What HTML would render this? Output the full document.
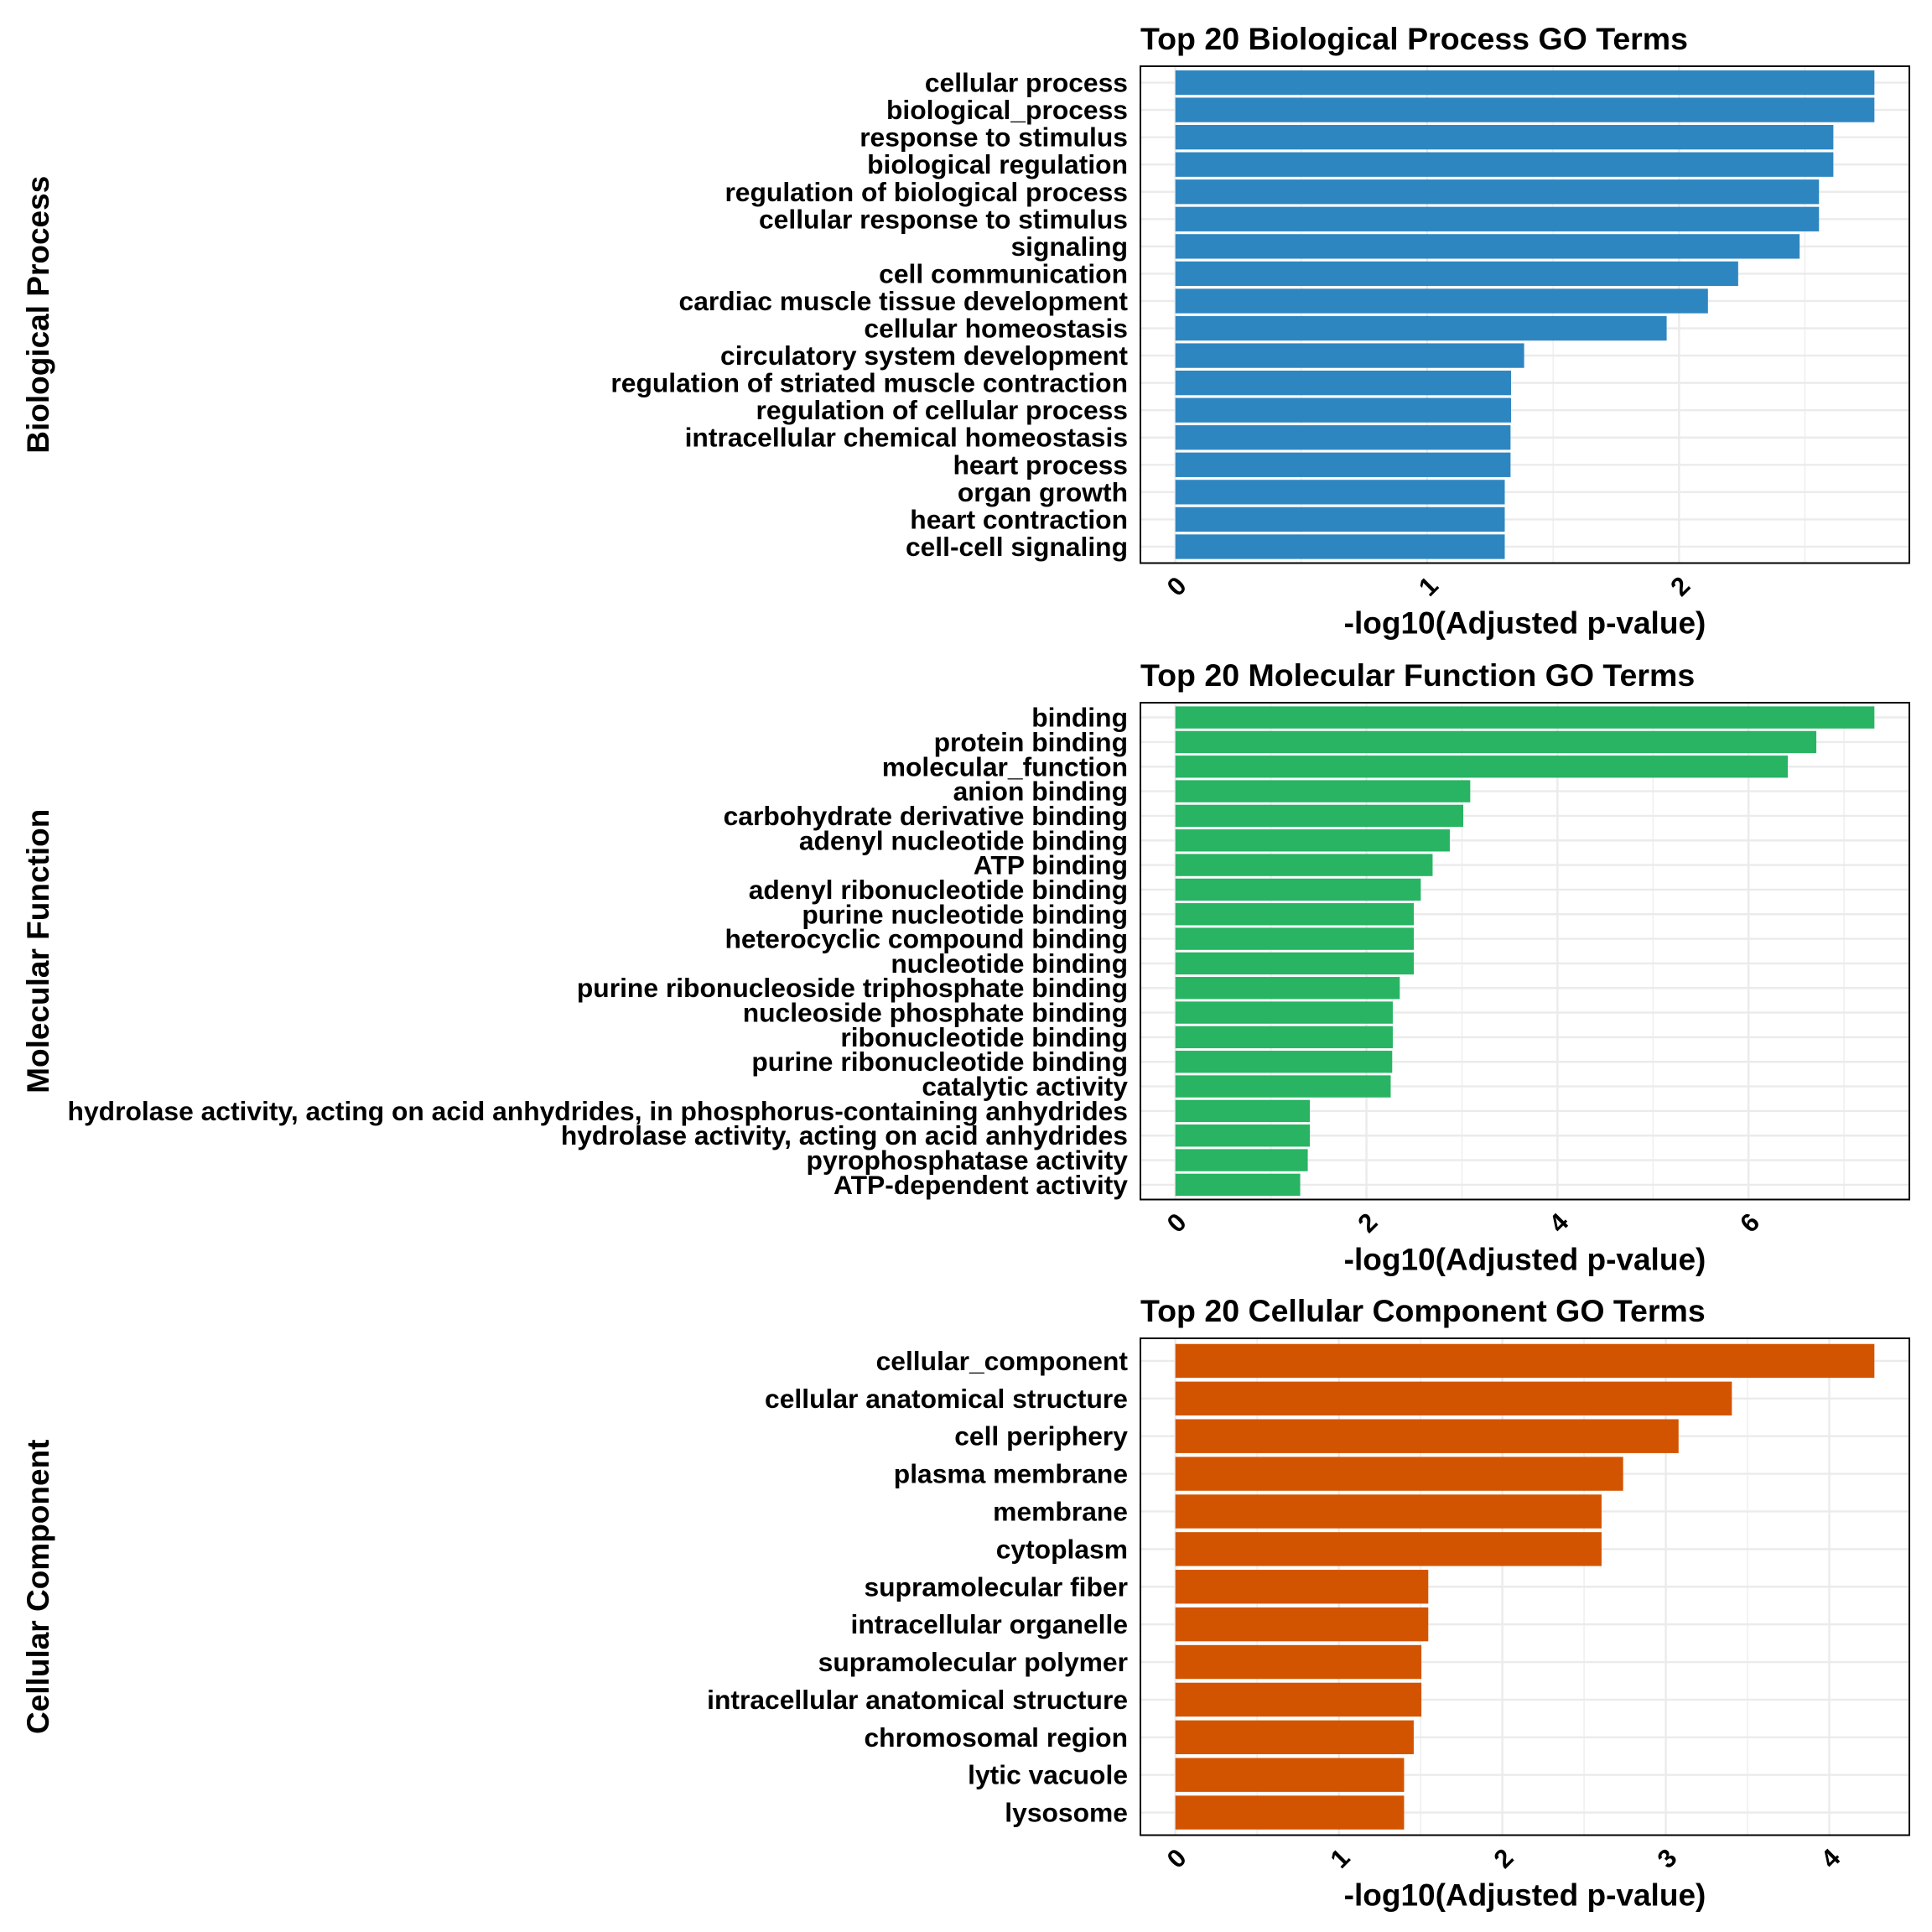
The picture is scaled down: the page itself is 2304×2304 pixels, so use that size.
<!DOCTYPE html>
<html><head><meta charset="utf-8"><style>
html,body{margin:0;padding:0;background:#fff;}
svg{display:block;}
text{font-family:"Liberation Sans",Arial,sans-serif;font-weight:bold;fill:#000;}
</style></head><body>
<svg id="chart" width="2304" height="2304" viewBox="0 0 2304 2304" xmlns="http://www.w3.org/2000/svg"></svg>
<script>
const bpTerms = ["cellular process","biological_process","response to stimulus","biological regulation","regulation of biological process","cellular response to stimulus","signaling","cell communication","cardiac muscle tissue development","cellular homeostasis","circulatory system development","regulation of striated muscle contraction","regulation of cellular process","intracellular chemical homeostasis","heart process","organ growth","heart contraction","cell-cell signaling"];
const bpValues = [2.776,2.776,2.613,2.613,2.556,2.556,2.479,2.235,2.115,1.951,1.385,1.333,1.333,1.331,1.331,1.308,1.308,1.308];
const bpTicks = [0,1,2];
const mfTerms = ["binding","protein binding","molecular_function","anion binding","carbohydrate derivative binding","adenyl nucleotide binding","ATP binding","adenyl ribonucleotide binding","purine nucleotide binding","heterocyclic compound binding","nucleotide binding","purine ribonucleoside triphosphate binding","nucleoside phosphate binding","ribonucleotide binding","purine ribonucleotide binding","catalytic activity","hydrolase activity, acting on acid anhydrides, in phosphorus-containing anhydrides","hydrolase activity, acting on acid anhydrides","pyrophosphatase activity","ATP-dependent activity"];
const mfValues = [7.318,6.71,6.411,3.087,3.014,2.873,2.693,2.569,2.496,2.496,2.496,2.349,2.276,2.276,2.270,2.254,1.408,1.408,1.386,1.307];
const mfTicks = [0,2,4,6];
const ccTerms = ["cellular_component","cellular anatomical structure","cell periphery","plasma membrane","membrane","cytoplasm","supramolecular fiber","intracellular organelle","supramolecular polymer","intracellular anatomical structure","chromosomal region","lytic vacuole","lysosome"];
const ccValues = [4.276,3.404,3.078,2.739,2.607,2.607,1.547,1.547,1.505,1.505,1.458,1.399,1.399];
const ccTicks = [0,1,2,3,4];

const NS="http://www.w3.org/2000/svg";
const svg=document.getElementById('chart');
function mk(tag,attrs,parent){const e=document.createElementNS(NS,tag);for(const k in attrs)e.setAttribute(k,attrs[k]);(parent||svg).appendChild(e);return e;}

function panel(key,title,ytitle,terms,values,ticks,color,top){
  const L=1360,R=2277,T=top,B=top+592.5;
  const g=mk('g',{});
  
  
  const vmax=Math.max(...values);
  const xmin=-0.05*vmax,xmax=vmax*1.05;
  const xs=v=>L+(v-xmin)/(xmax-xmin)*(R-L);
  const n=terms.length;
  const unit=(B-T)/(n-1+1.2);
  const ys=i=>T+unit*(0.6+i);
  const step=ticks[1]-ticks[0];
  for(let m=ticks[0]-step/2;m<=xmax;m+=step){ if(m<xmin)continue;
    const l=mk('line',{x1:xs(m),x2:xs(m),y1:T,y2:B,stroke:'#ebebeb','stroke-width':1.2},g);
    
    
  }
  ticks.forEach(t=>{const l=mk('line',{x1:xs(t),x2:xs(t),y1:T,y2:B,stroke:'#ebebeb','stroke-width':2.4},g);
    
    });
  for(let i=0;i<n;i++){const l=mk('line',{x1:L,x2:R,y1:ys(i),y2:ys(i),stroke:'#ebebeb','stroke-width':2.4},g);
    
    }
  for(let i=0;i<n;i++){
    const r=mk('rect',{x:xs(0),y:ys(i)-unit*0.45,width:xs(values[i])-xs(0),height:unit*0.9,fill:color},g);
    
    
    const t=mk('text',{x:1345,y:ys(i)+11,'text-anchor':'end','font-size':31.8},g);
    t.textContent=terms[i];
    
    
  }
  const border=mk('rect',{x:L,y:T,width:R-L,height:B-T,fill:'none',stroke:'#000','stroke-width':2},g);
  
  
  ticks.forEach(tv=>{
    const px=xs(tv)+15,py=B+29;
    const t=mk('text',{x:px,y:py,'text-anchor':'end','font-size':31,transform:`rotate(-45 ${px} ${py})`},g);
    t.textContent=tv;
    
    
  });
  const tt=mk('text',{x:L,y:T-20,'font-size':37.5},g);
  tt.textContent=title;
  
  
  const xt=mk('text',{x:(L+R)/2,y:B+84,'text-anchor':'middle','font-size':37},g);
  xt.textContent='-log10(Adjusted p-value)';
  
  
  const cy=(T+B)/2;
  const yt=mk('text',{x:58,y:cy,'text-anchor':'middle','font-size':37,transform:`rotate(-90 58 ${cy})`},g);
  yt.textContent=ytitle;
  
  
}
panel('bp','Top 20 Biological Process GO Terms','Biological Process',bpTerms,bpValues,bpTicks,'#2E86C1',79);
panel('mf','Top 20 Molecular Function GO Terms','Molecular Function',mfTerms,mfValues,mfTicks,'#28B463',838);
panel('cc','Top 20 Cellular Component GO Terms','Cellular Component',ccTerms,ccValues,ccTicks,'#D35400',1596);
</script>
</body></html>
